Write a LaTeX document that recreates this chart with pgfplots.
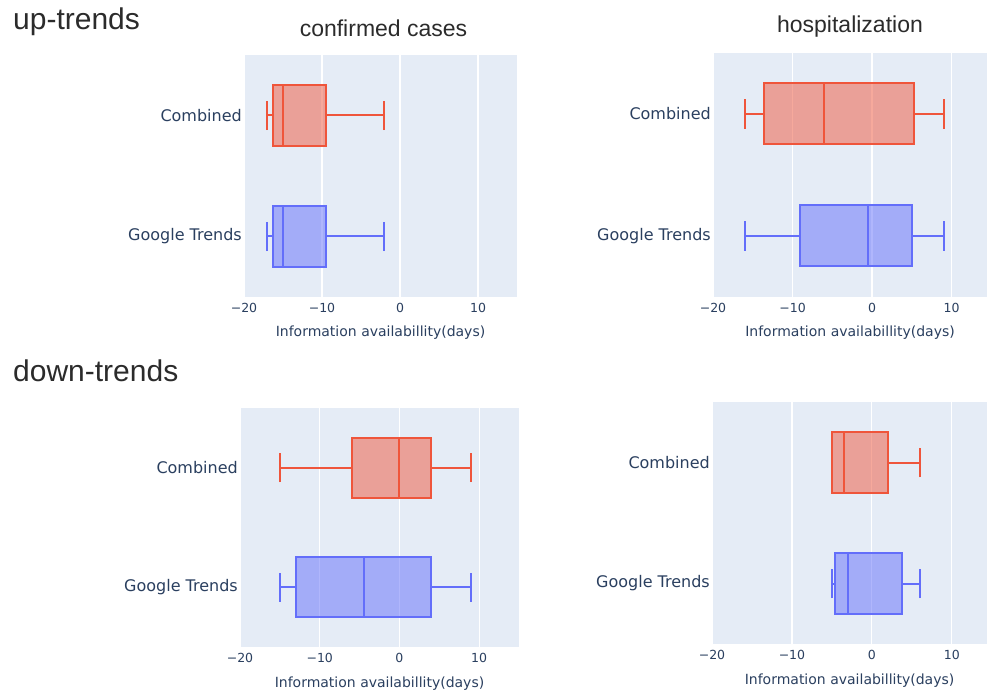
\documentclass[border=0pt]{standalone}
\usepackage{pgfplots}
\pgfplotsset{compat=1.18}
\usepgfplotslibrary{statistics}
\usepackage{fontspec}
\setmainfont{DejaVu Sans}
\newfontfamily\titlefont{Liberation Sans}

\definecolor{bgplot}{HTML}{E5ECF6}
\definecolor{plred}{HTML}{EF553B}
\definecolor{plblue}{HTML}{636EFA}
\definecolor{tickc}{HTML}{2A3F5F}
\definecolor{titlec}{HTML}{2B2B2B}

\pgfplotsset{
  panel/.style={
    scale only axis,
    xmin=-20, ymin=-0.5, ymax=1.5,
    axis background/.style={fill=bgplot},
    axis line style={draw=none},
    xtick={-20,-10,0,10},
    xticklabels={−20,−10,0,10},
    ytick={0,1},
    yticklabels={Google Trends,Combined},
    major tick length=0pt,
    xmajorgrids,
    grid style={white, line width=1.2pt},
    tick label style={text=tickc},
    xticklabel style={font=\fontsize{12.5}{15}\selectfont, yshift=-2.5pt},
    yticklabel style={font=\fontsize{16}{19}\selectfont, inner sep=1pt, xshift=-1pt},
    xlabel={Information availabillity(days)},
    xlabel style={font=\fontsize{14}{17}\selectfont, text=tickc,
      at={(axis description cs:0.5,0)}, anchor=base, yshift=-40pt},
    boxplot/draw direction=x,
  },
  redbox/.style={draw=plred, fill=plred, fill opacity=0.5, draw opacity=1,
    line width=2pt, solid},
  bluebox/.style={draw=plblue, fill=plblue, fill opacity=0.5, draw opacity=1,
    line width=2pt, solid},
}

\begin{document}
\begin{tikzpicture}
\useasboundingbox (0pt,0pt) rectangle (987pt,691pt);

% section and column headings
\node[anchor=base west, inner sep=0, text=titlec, font=\titlefont\fontsize{30}{36}\selectfont] at (13pt,661pt) {up-trends};
\node[anchor=base west, inner sep=0, text=titlec, font=\titlefont\fontsize{30}{36}\selectfont] at (13pt,309pt) {down-trends};
\node[anchor=base, inner sep=0, text=titlec, font=\titlefont\fontsize{23}{28}\selectfont] at (383.5pt,654pt) {confirmed cases};
\node[anchor=base, inner sep=0, text=titlec, font=\titlefont\fontsize{23}{28}\selectfont] at (850pt,658pt) {hospitalization};

% up-trends, confirmed cases
\begin{axis}[panel, at={(244pt,394pt)}, anchor=south west, width=273pt, height=242pt, xmax=15]
\addplot[redbox, boxplot prepared={lower whisker=-17, lower quartile=-16.3,
  median=-15, upper quartile=-9.5, upper whisker=-2,
  draw position=1, box extend=0.5, whisker extend=0.24}] coordinates {};
\addplot[bluebox, boxplot prepared={lower whisker=-17, lower quartile=-16.3,
  median=-15, upper quartile=-9.5, upper whisker=-2,
  draw position=0, box extend=0.5, whisker extend=0.24}] coordinates {};
\end{axis}

% up-trends, hospitalization
\begin{axis}[panel, at={(713pt,394pt)}, anchor=south west, width=274pt, height=244pt, xmax=14.45]
\addplot[redbox, boxplot prepared={lower whisker=-16, lower quartile=-13.6,
  median=-6, upper quartile=5.25, upper whisker=9,
  draw position=1, box extend=0.5, whisker extend=0.24}] coordinates {};
\addplot[bluebox, boxplot prepared={lower whisker=-16, lower quartile=-9,
  median=-0.5, upper quartile=5, upper whisker=9,
  draw position=0, box extend=0.5, whisker extend=0.24}] coordinates {};
\end{axis}

% down-trends, confirmed cases
\begin{axis}[panel, at={(240pt,44pt)}, anchor=south west, width=279pt, height=239pt, xmax=15]
\addplot[redbox, boxplot prepared={lower whisker=-15, lower quartile=-6,
  median=0, upper quartile=4, upper whisker=9,
  draw position=1, box extend=0.5, whisker extend=0.24}] coordinates {};
\addplot[bluebox, boxplot prepared={lower whisker=-15, lower quartile=-13,
  median=-4.5, upper quartile=4, upper whisker=9,
  draw position=0, box extend=0.5, whisker extend=0.24}] coordinates {};
\end{axis}

% down-trends, hospitalization
\begin{axis}[panel, at={(712pt,47pt)}, anchor=south west, width=275pt, height=242pt, xmax=14.4]
\addplot[redbox, boxplot prepared={lower whisker=-5, lower quartile=-5,
  median=-3.5, upper quartile=2, upper whisker=6,
  draw position=1, box extend=0.5, whisker extend=0.24}] coordinates {};
\addplot[bluebox, boxplot prepared={lower whisker=-5, lower quartile=-4.6,
  median=-3, upper quartile=3.8, upper whisker=6,
  draw position=0, box extend=0.5, whisker extend=0.24}] coordinates {};
\end{axis}
\end{tikzpicture}
\end{document}
